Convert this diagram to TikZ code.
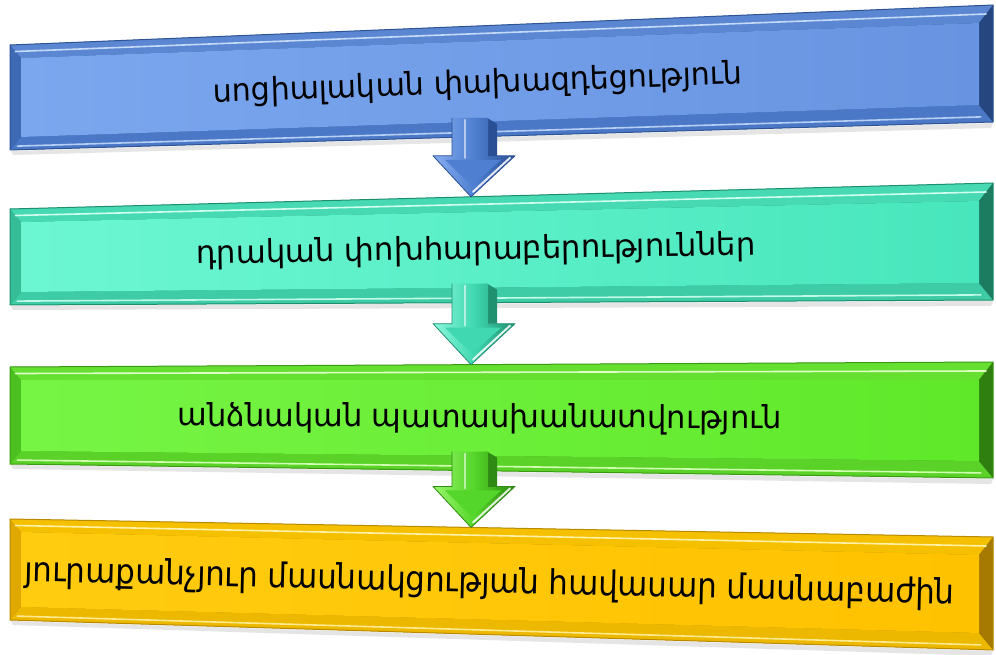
\documentclass[tikz,border=0pt]{standalone}
\usepackage{fontspec}
\usepackage{graphicx}
\newfontfamily\armfont{DejaVu Sans}
\usetikzlibrary{calc}

% blue
\definecolor{bEdge}{HTML}{2E5494}\definecolor{bTop}{HTML}{5A86D2}\definecolor{bHi}{HTML}{C5DAF8}
\definecolor{bLeft}{HTML}{3D69B5}\definecolor{bRight}{HTML}{26467F}\definecolor{bBot}{HTML}{4B78C6}
\definecolor{bBhi}{HTML}{B5CFF5}\definecolor{bFaceL}{HTML}{7BA7EF}\definecolor{bFaceR}{HTML}{6893E0}
\definecolor{bArL}{HTML}{86AEF0}\definecolor{bArM}{HTML}{4F7FD0}\definecolor{bArD}{HTML}{2B4F95}
% teal
\definecolor{tEdge}{HTML}{1E8F6E}\definecolor{tTop}{HTML}{46D9B2}\definecolor{tHi}{HTML}{D0FFF0}
\definecolor{tLeft}{HTML}{35BD98}\definecolor{tRight}{HTML}{1C7C60}\definecolor{tBot}{HTML}{3ECCA6}
\definecolor{tBhi}{HTML}{C0FBE8}\definecolor{tFaceL}{HTML}{6CF7D2}\definecolor{tFaceR}{HTML}{48E6BC}
\definecolor{tArL}{HTML}{8AF7DA}\definecolor{tArM}{HTML}{3FD8B0}\definecolor{tArD}{HTML}{1F9070}
% green
\definecolor{gEdge}{HTML}{3A9A14}\definecolor{gTop}{HTML}{66E030}\definecolor{gHi}{HTML}{E0FFC8}
\definecolor{gLeft}{HTML}{4CC020}\definecolor{gRight}{HTML}{2E7E10}\definecolor{gBot}{HTML}{5AD228}
\definecolor{gBhi}{HTML}{D0FFB0}\definecolor{gFaceL}{HTML}{77F545}\definecolor{gFaceR}{HTML}{5FE82A}
\definecolor{gArL}{HTML}{98F56A}\definecolor{gArM}{HTML}{55D62A}\definecolor{gArD}{HTML}{2E8A12}
% yellow
\definecolor{yEdge}{HTML}{B88A00}\definecolor{yTop}{HTML}{F5C000}\definecolor{yHi}{HTML}{FFF2A8}
\definecolor{yLeft}{HTML}{E0A800}\definecolor{yRight}{HTML}{A67A00}\definecolor{yBot}{HTML}{EDB800}
\definecolor{yBhi}{HTML}{FFEA90}\definecolor{yFaceL}{HTML}{FFCC10}\definecolor{yFaceR}{HTML}{FFC200}

\tikzset{
  txt/.style={inner sep=0pt, text=black, font=\armfont},
  hiline/.style={line width=1.6pt, line cap=round},
}

% #1 name, #2 yTL, #3 yTR, #4 yBR, #5 yBL, #6 colour prefix
\newcommand\bevbox[6]{%
  \coordinate (#1-TL) at (10,#2);
  \coordinate (#1-TR) at (993,#3);
  \coordinate (#1-BR) at (993,#4);
  \coordinate (#1-BL) at (10,#5);
  \coordinate (#1-iTL) at (21,#2+13);
  \coordinate (#1-iTR) at (979,#3+18);
  \coordinate (#1-iBR) at (979,#4-17);
  \coordinate (#1-iBL) at (21,#5-13);
  \coordinate (#1-L) at ($(#1-TL)!.5!(#1-BL)$);
  \coordinate (#1-R) at ($(#1-TR)!.5!(#1-BR)$);
  % soft shadow
  \fill[black!10] ($(#1-BL)+(1,1)$) -- ($(#1-BR)+(0,1)$) -- ($(#1-BR)+(-2,6)$) -- ($(#1-BL)+(3,5)$) -- cycle;
  \fill[#6Edge] (#1-TL) -- (#1-TR) -- (#1-BR) -- (#1-BL) -- cycle;
  \fill[#6Top] (#1-TL) -- (#1-TR) -- (#1-iTR) -- (#1-iTL) -- cycle;
  \fill[#6Bot] (#1-BL) -- (#1-BR) -- (#1-iBR) -- (#1-iBL) -- cycle;
  \fill[#6Left] (#1-TL) -- (#1-iTL) -- (#1-iBL) -- (#1-BL) -- cycle;
  \fill[#6Right] (#1-TR) -- (#1-iTR) -- (#1-iBR) -- (#1-BR) -- cycle;
  \draw[#6Hi, hiline] ($(#1-TL)!.5!(#1-iTL)$) -- ($(#1-TR)!.5!(#1-iTR)$);
  \draw[#6Bhi, hiline] ($(#1-BL)!.3!(#1-iBL)+(4,0)$) -- ($(#1-BR)!.3!(#1-iBR)+(-8,0)$);
  \shade[left color=#6FaceL, right color=#6FaceR] (#1-iTL) -- (#1-iTR) -- (#1-iBR) -- (#1-iBL) -- cycle;
  \draw[#6Edge, line width=1pt, line join=round] (#1-TL) -- (#1-TR) -- (#1-BR) -- (#1-BL) -- cycle;
}

% #1 name, #2 source box, #3 target box, #4 colour prefix
\newcommand\blockarrow[4]{%
  \coordinate (#1-tip) at ($(#3-TL)!0.469!(#3-TR)$);
  \coordinate (#1-base) at ($(#2-BL)!0.469!(#2-BR)$);
  \path let \p1=(#1-tip), \p2=(#1-base) in
    coordinate (#1-S) at (\x1,\y2+19)
    coordinate (#1-H) at (\x1,\y1+41);
  % side face of the shaft
  \fill[#4ArD] ($(#1-S)+(16,0)$) -- ($(#1-S)+(26,6)$) -- ($(#1-H)+(26,0)$) -- ($(#1-H)+(16,0)$) -- cycle;
  % main body
  \shade[left color=#4ArL, right color=#4ArD, middle color=#4ArM]
    ($(#1-S)+(-19,0)$) -- ($(#1-S)+(17,0)$) -- ($(#1-H)+(17,0)$) -- ($(#1-H)+(44,0)$)
    -- (#1-tip) -- ($(#1-H)+(-38,0)$) -- ($(#1-H)+(-19,0)$) -- cycle;
  % inner face of the head
  \fill[#4ArM] ($(#1-H)+(-26,4)$) -- ($(#1-H)+(30,4)$) -- ($(#1-tip)+(1,-11)$) -- cycle;
  % highlight of the shaft and head edges
  \draw[white, opacity=.55, line width=2pt, line cap=round] ($(#1-S)+(-6,2)$) -- ($(#1-H)+(-6,2)$);
  \draw[white, opacity=.85, line width=2pt, line cap=round] ($(#1-H)+(39,2)$) -- ($(#1-tip)+(2,-5)$);
  \draw[#4ArD, line width=.8pt, line join=round]
    ($(#1-S)+(-19,0)$) -- ($(#1-H)+(-19,0)$) -- ($(#1-H)+(-38,0)$) -- (#1-tip) -- ($(#1-H)+(44,0)$) -- ($(#1-H)+(17,0)$);
}

\begin{document}
\begin{tikzpicture}[x=1pt,y=-1pt]
\useasboundingbox (0,0) rectangle (996,655);
\fill[white] (0,0) rectangle (996,655);

\bevbox{blue}{45}{5}{122}{150}{b}
\bevbox{teal}{209}{183}{300}{305}{t}
\bevbox{green}{367}{362}{478}{464}{g}
\bevbox{yellow}{519}{537}{650}{620}{y}

\node[txt, rotate=2.0] (t1) at ($(blue-L)!0.476!(blue-R)+(0,3)$)
  {\resizebox{529pt}{24pt}{սոցիալական փախազդեցություն}};
\node[txt, rotate=0.9] (t2) at ($(teal-L)!0.474!(teal-R)+(0,1)$)
  {\resizebox{559pt}{24pt}{դրական փոխհարաբերություններ}};
\node[txt, rotate=-0.26] (t3) at ($(green-L)!0.478!(green-R)+(0,1)$)
  {\resizebox{604pt}{24pt}{անձնական պատասխանատվություն}};
\node[txt, rotate=-1.4] (t4) at ($(yellow-L)!0.488!(yellow-R)+(0,2)$)
  {\resizebox{930pt}{26pt}{յուրաքանչյուր մասնակցության հավասար մասնաբաժին}};

\blockarrow{a1}{blue}{teal}{b}
\blockarrow{a2}{teal}{green}{t}
\blockarrow{a3}{green}{yellow}{g}
\end{tikzpicture}
\end{document}
